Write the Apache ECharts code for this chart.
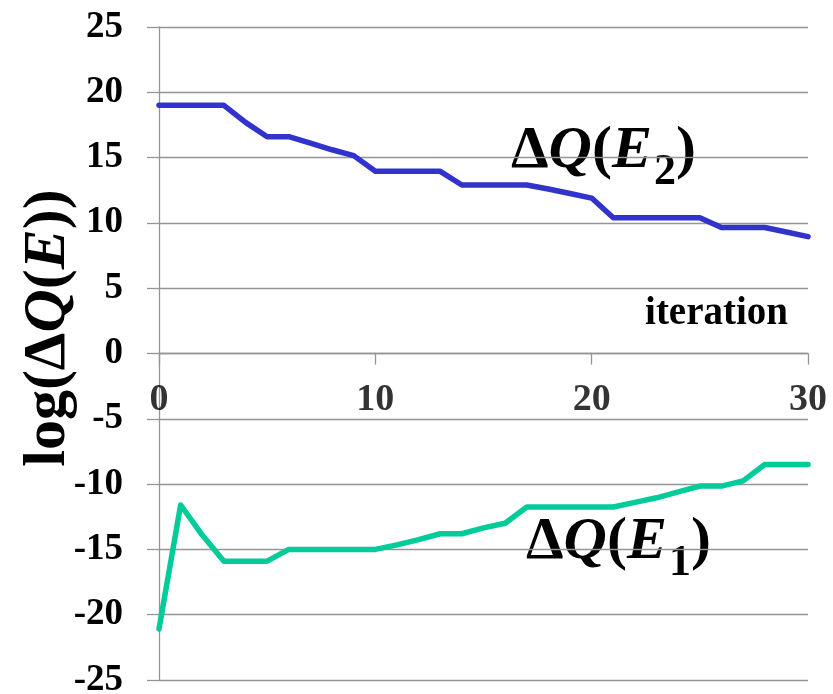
<!DOCTYPE html>
<html>
<head>
<meta charset="utf-8">
<script src="https://cdn.jsdelivr.net/npm/echarts@6/dist/echarts.min.js"></script>
<style>
  html, body { margin: 0; padding: 0; background: #fff; }
  #chart { width: 833px; height: 694px; }
</style>
</head>
<body>
<div id="chart"></div>
<script>
// iteration index (x axis)
var iterations = [0, 1, 2, 3, 4, 5, 6, 7, 8, 9, 10, 11, 12, 13, 14, 15,
  16, 17, 18, 19, 20, 21, 22, 23, 24, 25, 26, 27, 28, 29, 30];

// log(dQ(E2)) - upper blue curve
var dqE2 = [19, 19, 19, 19, 17.7, 16.6, 16.6, 16.1, 15.6, 15.15, 13.95, 13.95, 13.95, 13.95,
  12.9, 12.9, 12.9, 12.9, 12.6, 12.25, 11.9, 10.4, 10.4, 10.4, 10.4, 10.4, 9.65, 9.65, 9.65, 9.3, 8.95];

// log(dQ(E1)) - lower green curve
var dqE1 = [-21.1, -11.6, -13.9, -15.9, -15.9, -15.9, -15, -15, -15, -15, -15, -14.65, -14.25, -13.8, -13.8,
  -13.35, -13, -11.75, -11.75, -11.75, -11.75, -11.75, -11.4, -11.05, -10.6, -10.15, -10.15, -9.75, -8.5, -8.5, -8.5];

var yTicks = [-25, -20, -15, -10, -5, 0, 5, 10, 15, 20, 25];
var xTicks = [0, 10, 20, 30];

var FONT = "'Liberation Serif', 'Times New Roman', serif";
var gridColor = '#959595';

function pairs(xs, ys) {
  var out = [];
  for (var i = 0; i < xs.length; i++) out.push([xs[i], ys[i]]);
  return out;
}

var chart = echarts.init(document.getElementById('chart'));

var bigRich = {
  n: { fontFamily: FONT, fontWeight: 'bold', fontSize: 60, color: '#000' },
  i: { fontFamily: FONT, fontWeight: 'bold', fontStyle: 'italic', fontSize: 60, color: '#000' },
  s: { fontFamily: FONT, fontWeight: 'bold', fontSize: 44, color: '#000', padding: [44, 0, 0, 2] }
};

var option = {
  animation: false,
  backgroundColor: '#fff',
  grid: { left: 159, right: 25, top: 27, bottom: 14, containLabel: false, outerBoundsMode: 'none' },
  xAxis: {
    type: 'value',
    min: xTicks[0],
    max: xTicks[xTicks.length - 1],
    interval: 10,
    axisLine: { onZero: true, lineStyle: { color: gridColor, width: 1.3 } },
    axisTick: { show: true, inside: false, length: 11, lineStyle: { color: gridColor, width: 1.3 } },
    axisLabel: { show: false },
    splitLine: { show: false }
  },
  yAxis: {
    type: 'value',
    min: yTicks[0],
    max: yTicks[yTicks.length - 1],
    interval: 5,
    axisLine: { show: true, lineStyle: { color: gridColor, width: 1.3 } },
    axisTick: { show: true, inside: false, length: 12, lineStyle: { color: gridColor, width: 1.3 } },
    axisLabel: {
      margin: 36,
      fontFamily: FONT, fontWeight: 'bold', fontSize: 37, color: '#000'
    },
    splitLine: { show: true, lineStyle: { color: gridColor, width: 1.3 } }
  },
  series: [
    {
      name: 'dQ(E2)',
      type: 'line',
      data: pairs(iterations, dqE2),
      showSymbol: false,
      lineStyle: { color: '#3232CC', width: 5.5, cap: 'round', join: 'round' },
      itemStyle: { color: '#3232CC' }
    },
    {
      name: 'dQ(E1)',
      type: 'line',
      data: pairs(iterations, dqE1),
      showSymbol: false,
      lineStyle: { color: '#00CC99', width: 5.5, cap: 'round', join: 'round' },
      itemStyle: { color: '#00CC99' }
    },
    {
      // x tick labels sitting under the zero line
      name: 'xLabels',
      type: 'scatter',
      data: xTicks.map(function (v) { return [v, 0]; }),
      symbolSize: 0,
      silent: true,
      label: {
        show: true,
        position: 'bottom',
        distance: 28,
        formatter: function (p) { return String(p.value[0]); },
        fontFamily: FONT, fontWeight: 'bold', fontSize: 38, color: '#000'
      }
    }
  ],
  graphic: [
    {
      type: 'text',
      x: 48, y: 328,
      rotation: Math.PI / 2,
      style: {
        text: '{n|log(Δ}{i|Q}{n|(}{i|E}{n|))}',
        align: 'center', verticalAlign: 'middle',
        rich: bigRich
      }
    },
    {
      type: 'text',
      x: 788, y: 333,
      style: {
        text: 'iteration',
        align: 'right', verticalAlign: 'bottom',
        font: 'bold 39px ' + FONT,
        fill: '#000'
      }
    },
    {
      type: 'text',
      x: 511, y: 107,
      style: {
        text: '{n|Δ}{i|Q}{n|(}{i|E}{s|2}{n|)}',
        align: 'left', verticalAlign: 'top',
        rich: bigRich
      }
    },
    {
      type: 'text',
      x: 526, y: 498,
      style: {
        text: '{n|Δ}{i|Q}{n|(}{i|E}{s|1}{n|)}',
        align: 'left', verticalAlign: 'top',
        rich: bigRich
      }
    }
  ]
};

chart.setOption(option);
</script>
</body>
</html>
